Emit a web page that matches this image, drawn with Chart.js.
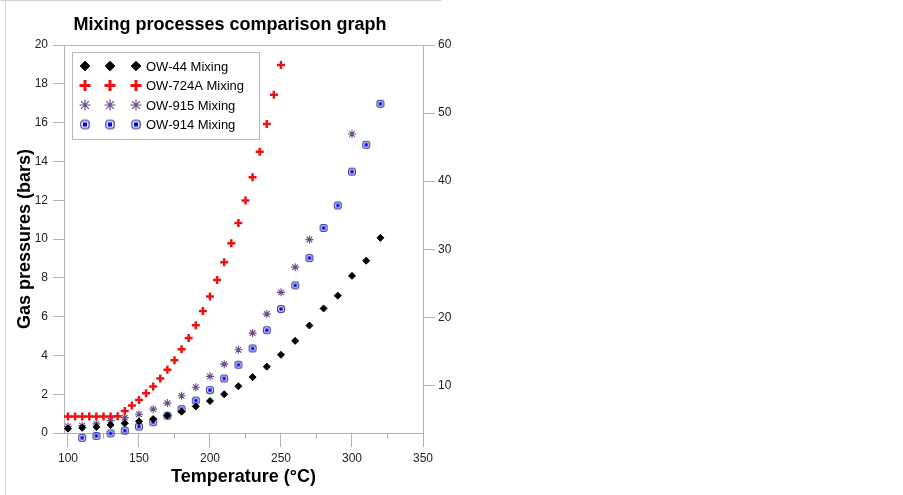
<!DOCTYPE html>
<html>
<head>
<meta charset="utf-8">
<script src="https://cdn.jsdelivr.net/npm/chart.js@4.4.1/dist/chart.umd.min.js"></script>
<style>
  html, body { margin: 0; padding: 0; background: #fff; }
  #wrap { position: relative; width: 903px; height: 495px; }
</style>
</head>
<body>
<div id="wrap"><canvas id="mixChart"></canvas></div>
<script>
// temperatures (°C)
const tempsFine = [100, 105, 110, 115, 120, 125, 130, 135, 140, 145, 150, 155, 160, 165, 170, 175,
  180, 185, 190, 195, 200, 205, 210, 215, 220, 225, 230, 235, 240, 245, 250];
const tempsCoarse = [100, 110, 120, 130, 140, 150, 160, 170, 180, 190, 200, 210, 220, 230, 240, 250,
  260, 270, 280, 290, 300, 310, 320];

// gas pressures (bars)
const ow724a = [0.85, 0.85, 0.85, 0.85, 0.85, 0.85, 0.85, 0.86, 1.14, 1.42, 1.70, 2.05, 2.40, 2.81, 3.26, 3.75,
  4.32, 4.90, 5.55, 6.29, 7.04, 7.89, 8.80, 9.78, 10.83, 11.98, 13.18, 14.50, 15.93, 17.43, 18.97];
const ow44 = [0.22, 0.27, 0.31, 0.41, 0.50, 0.60, 0.72, 0.90, 1.10, 1.37, 1.65, 2.00, 2.41, 2.88, 3.42, 4.03,
  4.75, 5.54, 6.42, 7.08, 8.10, 8.88, 10.06];
const ow915 = [0.34, 0.38, 0.47, 0.64, 0.79, 0.97, 1.23, 1.54, 1.92, 2.36, 2.92, 3.55, 4.29, 5.15, 6.13, 7.25,
  8.55, 9.97, null, null, 15.41, null, null];
const ow914 = [-0.32, -0.25, -0.15, -0.02, 0.12, 0.33, 0.56, 0.89, 1.23, 1.67, 2.21, 2.81, 3.52, 4.36, 5.30, 6.39,
  7.61, 9.02, 10.57, 11.73, 13.47, 14.86, 16.97];

const seriesNames = ['OW-44 Mixing', 'OW-724A Mixing', 'OW-915 Mixing', 'OW-914 Mixing'];
const xTicks = [100, 150, 200, 250, 300, 350];
const xMinorTicks = [125, 175, 225, 275, 325];
const yTicks = [0, 2, 4, 6, 8, 10, 12, 14, 16, 18, 20];
const y2Ticks = [10, 20, 30, 40, 50, 60];

const FONT = "'Liberation Sans', Arial, sans-serif";
const AXIS_GRAY = '#b3b3b3';

// blue square with a rounded outline, like the OW-914 symbol
function blueMarker(r) {
  const s = Math.ceil(r * 2 + 3);
  const c = document.createElement('canvas');
  c.width = s; c.height = s;
  const g = c.getContext('2d');
  const m = s / 2;
  g.strokeStyle = '#3f3f90';
  g.lineWidth = 1.2;
  g.beginPath();
  g.roundRect(m - r, m - r, r * 2, r * 2, r * 0.7);
  g.stroke();
  g.fillStyle = '#0000ff';
  const q = r * 0.5;
  g.fillRect(m - q, m - q, q * 2, q * 2);
  return c;
}

const styles = [
  { pointStyle: 'rectRot', color: '#000000', radius: 3.5, borderWidth: 1, lr: 4.8, lw: 1 },
  { pointStyle: 'cross', color: '#ee1111', radius: 4, borderWidth: 2.5, lr: 5.5, lw: 3 },
  { pointStyle: 'star', color: '#6a4a88', radius: 4, borderWidth: 1.1, lr: 5.5, lw: 1.2 },
  { pointStyle: blueMarker(3.4), color: '#2a2aa8', radius: 4, borderWidth: 1, lr: 5, lw: 1, big: blueMarker(4.2) }
];

const toPts = (xs, ys) => xs.map((x, i) => ({ x: x, y: ys[i] }));
const seriesData = [toPts(tempsCoarse, ow44), toPts(tempsFine, ow724a), toPts(tempsCoarse, ow915), toPts(tempsCoarse, ow914)];

const datasets = seriesNames.map((name, i) => ({
  label: name,
  data: seriesData[i],
  showLine: false,
  clip: false,
  pointStyle: styles[i].pointStyle,
  pointRadius: styles[i].radius,
  pointHoverRadius: styles[i].radius,
  pointBorderWidth: styles[i].borderWidth,
  pointBackgroundColor: styles[i].color,
  pointBorderColor: styles[i].color,
  yAxisID: 'y'
}));

// title, plot frame, minor ticks and the boxed legend
const extras = {
  id: 'extras',
  beforeDraw(chart) {
    const c = chart.ctx;
    c.save();
    c.strokeStyle = '#d0d0d0';
    c.lineWidth = 1;
    c.beginPath();
    c.moveTo(0, 0.5); c.lineTo(441, 0.5);
    c.moveTo(5.5, 0); c.lineTo(5.5, 495);
    c.stroke();
    c.restore();
  },
  afterDraw(chart) {
    const c = chart.ctx;
    const a = chart.chartArea;
    const xs = chart.scales.x;
    c.save();
    c.strokeStyle = AXIS_GRAY;
    c.lineWidth = 1;
    c.beginPath();
    c.moveTo(a.left, Math.round(a.top) + 0.5);
    c.lineTo(a.right, Math.round(a.top) + 0.5);
    xMinorTicks.forEach(v => {
      const px = Math.round(xs.getPixelForValue(v)) + 0.5;
      c.moveTo(px, a.bottom);
      c.lineTo(px, a.bottom + 6);
    });
    c.stroke();

    c.fillStyle = '#000';
    c.font = 'bold 18px ' + FONT;
    c.textAlign = 'center';
    c.textBaseline = 'alphabetic';
    c.fillText('Mixing processes comparison graph', a.left + 166, 30);

    const bx = a.left + 8, by = a.top + 7, bw = 187, bh = 87;
    c.fillStyle = '#fff';
    c.fillRect(bx, by, bw, bh);
    c.strokeStyle = '#b8b8b8';
    c.strokeRect(bx + 0.5, by + 0.5, bw, bh);
    c.font = '13px ' + FONT;
    c.textAlign = 'left';
    c.textBaseline = 'middle';
    seriesNames.forEach((name, i) => {
      const st = styles[i];
      const yy = by + 14 + i * 19.5;
      [21, 46, 72].forEach(dx => {
        c.fillStyle = st.color;
        c.strokeStyle = st.color;
        c.lineWidth = st.lw;
        Chart.helpers.drawPoint(c, {
          pointStyle: st.big || st.pointStyle, radius: st.lr, borderWidth: st.lw, rotation: 0
        }, bx + dx - 8, yy);
      });
      c.fillStyle = '#000';
      c.fillText(name, bx + 74, yy + 1);
    });
    c.restore();
  }
};

const ctx = document.getElementById('mixChart').getContext('2d');
const myChart = new Chart(ctx, {
  type: 'scatter',
  data: { datasets: datasets },
  options: {
    responsive: true,
    maintainAspectRatio: false,
    animation: false,
    events: [],
    layout: { padding: { top: 45, left: 0, right: 0, bottom: 0 } },
    plugins: {
      legend: { display: false },
      title: { display: false },
      tooltip: { enabled: false }
    },
    scales: {
      x: {
        type: 'linear',
        position: 'bottom',
        min: 97.2,
        max: 350,
        afterBuildTicks: s => { s.ticks = xTicks.map(v => ({ value: v })); },
        afterFit: s => { s.height = 62; },
        grid: { drawOnChartArea: false, tickLength: 14, tickColor: AXIS_GRAY },
        border: { color: AXIS_GRAY },
        ticks: { color: '#222', font: { family: FONT, size: 12 }, padding: 4, maxRotation: 0 },
        title: {
          display: true, text: 'Temperature (°C)', color: '#000',
          font: { family: FONT, size: 18, weight: 'bold' }, padding: { top: 0, bottom: 7 }
        }
      },
      y: {
        type: 'linear',
        position: 'left',
        min: 0,
        max: 20,
        afterBuildTicks: s => { s.ticks = yTicks.map(v => ({ value: v })); },
        afterFit: s => { s.width = 64; },
        grid: { drawOnChartArea: false, tickLength: 11, tickColor: AXIS_GRAY },
        border: { color: AXIS_GRAY },
        ticks: { color: '#222', font: { family: FONT, size: 12 }, padding: 5 },
        title: {
          display: true, text: 'Gas pressures (bars)', color: '#000',
          font: { family: FONT, size: 18, weight: 'bold' }, padding: { top: 14, bottom: 0 }
        }
      },
      y2: {
        type: 'linear',
        position: 'right',
        min: 3,
        max: 60,
        afterBuildTicks: s => { s.ticks = y2Ticks.map(v => ({ value: v })); },
        afterFit: s => { s.width = 480; },
        grid: { drawOnChartArea: false, tickLength: 12, tickColor: AXIS_GRAY },
        border: { color: AXIS_GRAY },
        ticks: { color: '#222', font: { family: FONT, size: 12 }, padding: 3 }
      }
    }
  },
  plugins: [extras]
});
</script>
</body>
</html>
